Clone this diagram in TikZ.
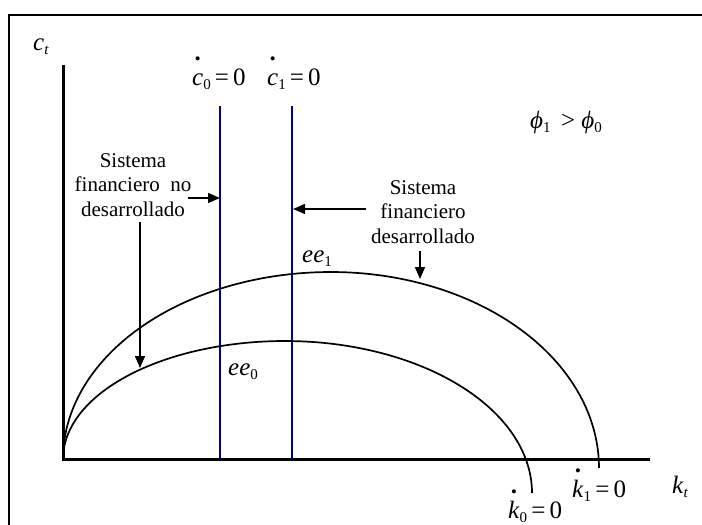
\documentclass[tikz,border=0pt]{standalone}
\usepackage{fontspec}
\setmainfont{Liberation Serif}
\usetikzlibrary{arrows.meta}
\newcommand\hdot[2][1.0em]{\ooalign{#2\cr\hidewidth\raisebox{#1}{\upshape\bfseries .}\hidewidth\cr}}
\newcommand\sbs[1]{\raisebox{-4pt}{\fontsize{15}{15}\selectfont #1}}
\begin{document}
\begin{tikzpicture}[x=1pt,y=-1pt,
  frameline/.style={line width=2pt},
  axisline/.style={line width=3pt, line join=miter},
  curveline/.style={line width=1.7pt},
  nullcl/.style={line width=1.5pt, draw={rgb,255:red,0;green,0;blue,140}},
  lbl/.style={font=\fontsize{21}{24.5}\selectfont, align=center, inner sep=0pt},
  mth/.style={font=\fontsize{25}{30}\selectfont, inner sep=0pt, anchor=base west},
  arr/.style={line width=1.4pt, -{Triangle[length=12pt,width=10pt]}}]
\useasboundingbox (0,0) rectangle (702,525);
% frame
\draw[frameline] (9,525) -- (9,15) -- (702,15);
% axes
\coordinate (ytop) at (63,65);
\coordinate (orig) at (63,459);
\coordinate (xend) at (650,459);
\draw[axisline] (ytop) -- (orig) -- (xend);
% nullclines c-dot
\coordinate (c0t) at (220,106); \coordinate (c0b) at (220,459);
\coordinate (c1t) at (292,106); \coordinate (c1b) at (292,459);
\draw[nullcl] (c0t) -- (c0b);
\draw[nullcl] (c1t) -- (c1b);
% curves
\draw[curveline] plot[domain=180:90,samples=80] ({331+268*cos(\x)},{459-187*sin(\x)})
  -- plot[domain=90:0,samples=80] ({331+268*cos(\x)},{468-196*sin(\x)});
\draw[curveline] plot[domain=180:90,samples=80] ({285+222*cos(\x)},{459-118*sin(\x)})
  -- plot[domain=90:0,samples=80] ({285+247*cos(\x)},{493-152*sin(\x)});
% labels
\node[mth] (ct) at (33,50) {\textit{c}\sbs{\textit{t}}};
\node[mth] (kt) at (672,493) {\textit{k}\sbs{\textit{t}}};
\node[mth] (c0l) at (192,85) {\hdot{\textit{c}}\sbs{0}\,=\,0};
\node[mth] (c1l) at (267,85) {\hdot{\textit{c}}\sbs{1}\,=\,0};
\node[mth] (phi) at (530,128) {\textit{ϕ}\sbs{1}\, > \textit{ϕ}\sbs{0}};
\node[mth] (ee1) at (302,262) {\textit{ee}\sbs{1}};
\node[mth] (ee0) at (228,375) {\textit{ee}\sbs{0}};
\node[mth] (k1l) at (572,497) {\hdot{\textit{k}}\sbs{1}\,=\,0};
\node[mth] (k0l) at (508,518) {\hdot{\textit{k}}\sbs{0}\,=\,0};
\node[lbl, anchor=north] (sfnd) at (133,153) {Sistema\\financiero\ \ no\\desarrollado};
\node[lbl, anchor=north] (sfd) at (423,180) {Sistema\\financiero\\desarrollado};
% arrows
\coordinate (a1s) at (188,198); \coordinate (a1e) at (220,198);
\coordinate (a2s) at (140,222); \coordinate (a2e) at (140,368);
\coordinate (a3s) at (366,209); \coordinate (a3e) at (293,209);
\coordinate (a4s) at (420,251); \coordinate (a4e) at (420,279);
\draw[arr] (a1s) -- (a1e);
\draw[arr] (a2s) -- (a2e);
\draw[arr] (a3s) -- (a3e);
\draw[arr] (a4s) -- (a4e);
\end{tikzpicture}
\end{document}
